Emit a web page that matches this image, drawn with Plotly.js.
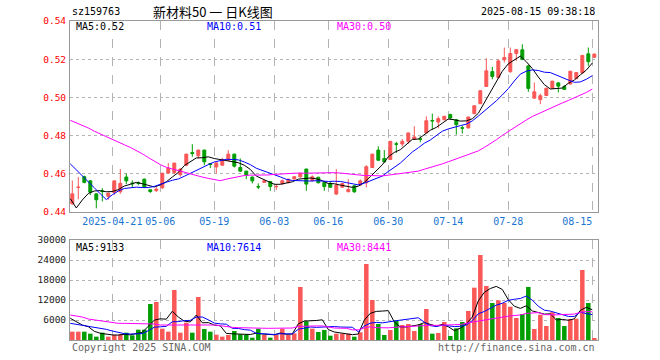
<!DOCTYPE html>
<html><head><meta charset="utf-8">
<script src="https://cdn.plot.ly/plotly-3.0.1.min.js"></script>
<style>html,body{margin:0;padding:0;background:#fff;}#chart{width:660px;height:360px;}</style>
</head><body><div id="chart"></div>
<script>
const dates = ['2025-04-10','2025-04-11','2025-04-14','2025-04-15','2025-04-16','2025-04-17','2025-04-18','2025-04-21','2025-04-22','2025-04-23','2025-04-24','2025-04-25','2025-04-28','2025-04-29','2025-04-30',
'2025-05-06','2025-05-07','2025-05-08','2025-05-09','2025-05-12','2025-05-13','2025-05-14','2025-05-15','2025-05-16','2025-05-19','2025-05-20','2025-05-21','2025-05-22','2025-05-23','2025-05-26','2025-05-27','2025-05-28','2025-05-29','2025-05-30',
'2025-06-03','2025-06-04','2025-06-05','2025-06-06','2025-06-09','2025-06-10','2025-06-11','2025-06-12','2025-06-13','2025-06-16','2025-06-17','2025-06-18','2025-06-19','2025-06-20','2025-06-23','2025-06-24','2025-06-25','2025-06-26','2025-06-27','2025-06-30',
'2025-07-01','2025-07-02','2025-07-03','2025-07-04','2025-07-07','2025-07-08','2025-07-09','2025-07-10','2025-07-11','2025-07-14','2025-07-15','2025-07-16','2025-07-17','2025-07-18','2025-07-21','2025-07-22','2025-07-23','2025-07-24','2025-07-25','2025-07-28','2025-07-29','2025-07-30','2025-07-31',
'2025-08-01','2025-08-04','2025-08-05','2025-08-06','2025-08-07','2025-08-08','2025-08-11','2025-08-12','2025-08-13','2025-08-14','2025-08-15'];

const open = [0.4443,0.4528,0.4585,0.4563,0.4495,0.4510,0.4482,0.4502,0.4506,0.4583,0.4552,0.4553,0.4572,0.4516,0.4512,0.4527,0.4604,0.4606,0.4595,0.4645,0.4711,0.4694,0.4724,0.4654,0.4636,0.4645,0.4671,0.4703,0.4633,0.4614,0.4583,0.4533,0.4555,0.4559,0.4532,0.4547,0.4554,0.4573,0.4584,0.4625,0.4564,0.4582,0.4554,0.4550,0.4494,0.4530,0.4506,0.4537,0.4541,0.4553,0.4633,0.4724,0.4680,0.4675,0.4757,0.4756,0.4770,0.4782,0.4784,0.4814,0.4879,0.4871,0.4883,0.4910,0.4883,0.4841,0.4840,0.4915,0.4967,0.5057,0.5135,0.5104,0.5197,0.5135,0.5230,0.5249,0.5165,0.4996,0.4988,0.5010,0.5048,0.5076,0.5057,0.5070,0.5098,0.5128,0.5228,0.5210];
const high = [0.4565,0.4584,0.4590,0.4566,0.4497,0.4525,0.4500,0.4564,0.4625,0.4602,0.4566,0.4560,0.4575,0.4518,0.4530,0.4605,0.4656,0.4658,0.4628,0.4705,0.4755,0.4726,0.4726,0.4657,0.4660,0.4684,0.4724,0.4705,0.4680,0.4616,0.4585,0.4550,0.4566,0.4561,0.4545,0.4570,0.4574,0.4587,0.4604,0.4626,0.4592,0.4584,0.4556,0.4558,0.4624,0.4552,0.4572,0.4540,0.4570,0.4645,0.4705,0.4744,0.4724,0.4772,0.4767,0.4782,0.4816,0.4849,0.4796,0.4901,0.4915,0.4901,0.4903,0.4915,0.4885,0.4852,0.4899,0.4958,0.5037,0.5205,0.5160,0.5200,0.5261,0.5261,0.5252,0.5278,0.5170,0.5078,0.5020,0.5050,0.5087,0.5080,0.5065,0.5139,0.5132,0.5222,0.5261,0.5229];
const low = [0.4438,0.4466,0.4550,0.4489,0.4419,0.4455,0.4464,0.4490,0.4495,0.4546,0.4530,0.4540,0.4525,0.4500,0.4505,0.4520,0.4600,0.4600,0.4585,0.4640,0.4689,0.4680,0.4645,0.4630,0.4602,0.4642,0.4668,0.4633,0.4610,0.4572,0.4550,0.4520,0.4552,0.4511,0.4516,0.4545,0.4550,0.4570,0.4580,0.4511,0.4560,0.4550,0.4511,0.4526,0.4490,0.4526,0.4504,0.4500,0.4538,0.4529,0.4630,0.4668,0.4658,0.4672,0.4709,0.4744,0.4758,0.4778,0.4765,0.4812,0.4831,0.4838,0.4880,0.4885,0.4805,0.4811,0.4838,0.4912,0.4965,0.5055,0.5095,0.5100,0.5183,0.5128,0.5191,0.5195,0.5029,0.4994,0.4965,0.5008,0.5045,0.5026,0.5040,0.5068,0.5096,0.5126,0.5165,0.5208];
const close = [0.4495,0.4530,0.4555,0.4504,0.4464,0.4507,0.4499,0.4563,0.4550,0.4563,0.4548,0.4550,0.4530,0.4507,0.4520,0.4603,0.4630,0.4656,0.4625,0.4703,0.4706,0.4724,0.4663,0.4649,0.4657,0.4675,0.4703,0.4640,0.4614,0.4593,0.4563,0.4531,0.4564,0.4533,0.4534,0.4564,0.4572,0.4585,0.4603,0.4546,0.4584,0.4553,0.4533,0.4530,0.4541,0.4549,0.4518,0.4506,0.4563,0.4637,0.4703,0.4671,0.4663,0.4770,0.4755,0.4770,0.4814,0.4793,0.4780,0.4878,0.4877,0.4889,0.4901,0.4892,0.4857,0.4839,0.4897,0.4956,0.5035,0.5139,0.5110,0.5191,0.5209,0.5230,0.5250,0.5200,0.5047,0.5029,0.5009,0.5048,0.5085,0.5059,0.5042,0.5137,0.5130,0.5220,0.5187,0.5227];
const volume = [2500,2500,2500,1900,1000,2200,1000,1500,1700,2200,1400,3100,3100,10800,11400,3400,2500,15000,2200,5200,2200,12900,3300,2500,1600,1000,1500,2700,1700,1700,700,3400,1500,700,1500,3400,1500,2000,15900,5600,3400,2400,3000,1300,1900,1900,1900,1000,2300,22800,12000,4800,1500,3000,5800,4500,4800,2700,4800,9300,1900,2100,5400,1200,3500,5400,8700,15700,25500,16200,11100,11900,11100,10000,6600,7800,15900,3300,7600,4200,8300,6600,4200,6300,6400,21000,11100,600];

const ma5 = [0.4470,0.4421,0.4463,0.4497,0.4510,0.4512,0.4506,0.4507,0.4517,0.4536,0.4545,0.4555,0.4548,0.4540,0.4531,0.4542,0.4558,0.4583,0.4607,0.4643,0.4664,0.4683,0.4684,0.4689,0.4680,0.4674,0.4669,0.4665,0.4658,0.4645,0.4623,0.4588,0.4573,0.4557,0.4545,0.4545,0.4553,0.4558,0.4572,0.4574,0.4578,0.4574,0.4564,0.4549,0.4548,0.4541,0.4534,0.4529,0.4535,0.4555,0.4585,0.4616,0.4647,0.4689,0.4712,0.4726,0.4754,0.4780,0.4782,0.4807,0.4828,0.4843,0.4865,0.4887,0.4883,0.4876,0.4877,0.4888,0.4917,0.4973,0.5027,0.5086,0.5137,0.5176,0.5198,0.5216,0.5187,0.5151,0.5107,0.5067,0.5044,0.5046,0.5049,0.5074,0.5091,0.5118,0.5143,0.5180];
const ma10 = [0.4652,0.4622,0.4590,0.4560,0.4527,0.4495,0.4465,0.4490,0.4510,0.4523,0.4528,0.4530,0.4528,0.4528,0.4534,0.4543,0.4556,0.4566,0.4573,0.4587,0.4603,0.4620,0.4634,0.4648,0.4662,0.4669,0.4676,0.4675,0.4673,0.4662,0.4648,0.4629,0.4619,0.4607,0.4595,0.4584,0.4571,0.4565,0.4564,0.4560,0.4562,0.4564,0.4561,0.4560,0.4561,0.4560,0.4554,0.4546,0.4542,0.4551,0.4563,0.4575,0.4588,0.4612,0.4634,0.4656,0.4685,0.4714,0.4736,0.4760,0.4777,0.4799,0.4823,0.4835,0.4845,0.4852,0.4860,0.4877,0.4902,0.4928,0.4952,0.4982,0.5013,0.5046,0.5086,0.5122,0.5137,0.5144,0.5141,0.5132,0.5130,0.5117,0.5100,0.5091,0.5079,0.5081,0.5095,0.5114];
const ma30 = [0.4880,0.4868,0.4855,0.4840,0.4823,0.4808,0.4793,0.4780,0.4765,0.4752,0.4738,0.4722,0.4705,0.4685,0.4666,0.4648,0.4634,0.4625,0.4615,0.4606,0.4598,0.4590,0.4583,0.4576,0.4569,0.4564,0.4572,0.4579,0.4584,0.4591,0.4593,0.4593,0.4593,0.4594,0.4597,0.4599,0.4601,0.4602,0.4604,0.4603,0.4604,0.4604,0.4604,0.4605,0.4606,0.4604,0.4600,0.4595,0.4593,0.4591,0.4591,0.4589,0.4589,0.4593,0.4597,0.4600,0.4603,0.4609,0.4614,0.4624,0.4632,0.4642,0.4652,0.4663,0.4674,0.4684,0.4695,0.4707,0.4720,0.4738,0.4757,0.4778,0.4801,0.4822,0.4844,0.4864,0.4882,0.4900,0.4915,0.4930,0.4945,0.4959,0.4971,0.4984,0.4997,0.5011,0.5026,0.5044];
const vma5 = [6500,5500,4500,4000,2600,2020,1720,1520,1480,1720,1560,1980,2300,4120,5960,6360,6240,8620,6900,5660,5420,7500,5160,5220,4500,4260,1980,1860,1700,1720,1660,2040,1800,1600,1560,2100,1720,1820,4860,5680,5680,5860,6060,3140,2400,2100,2000,1600,1800,5980,8000,8580,8680,8820,5420,3920,3920,4160,4520,5220,4700,4160,4700,3980,2820,3520,4840,6900,11760,14300,15440,16080,15160,12060,10140,9480,10280,8720,8240,7760,7860,6000,6180,5920,6360,8900,9800,9080];
const vma10 = [5000,4700,4400,4200,4000,3700,3200,2700,2300,1900,1790,1850,1910,2800,3840,3960,4110,5460,5510,5810,5890,6870,6890,6060,5080,4840,4740,3510,3460,3110,2960,2010,1830,1650,1640,1880,1880,1810,3230,3620,3890,3790,3940,4000,4040,3890,3930,3830,2470,4190,5050,5290,5140,5310,5700,5960,6250,6420,6670,5320,4310,4040,4430,4250,4020,4110,4500,5800,7870,8560,9480,10460,11030,11910,12220,12460,13180,11940,10150,8950,8670,8140,7450,7080,7060,8380,7900,7630];
const vma30 = [7500,7300,6900,6300,6000,5900,5500,5200,5000,5000,5000,5000,4900,4900,4800,4500,4500,4700,4600,4500,4500,4500,4500,4500,4500,4300,4000,3800,3700,3607,3547,3577,3543,3503,3520,3560,3577,3593,4067,4180,4247,4223,4220,3903,3587,3537,3517,3050,3053,3640,3967,3697,3637,3653,3793,3910,4020,4020,4123,4377,4417,4373,4503,4520,4587,4653,4893,5350,5670,6023,6280,6597,6867,7157,7313,7510,7977,8053,8230,7610,7487,7547,7637,7747,7767,8317,8527,8457];

const tickDates = ['2025-04-21','2025-05-06','2025-05-19','2025-06-03','2025-06-16','2025-06-30','2025-07-14','2025-07-28','2025-08-15'];
const tickLabels = ['2025-04-21','05-06','05-19','06-03','06-16','06-30','07-14','07-28','08-15'];
const priceTicks = [0.44,0.46,0.48,0.50,0.52,0.54];
const priceTickLabels = ['0.44','0.46','0.48','0.50','0.52','0.54'];
const volTicks = [6000,12000,18000,24000,30000];
const volTickLabels = ['6000','12000','18000','24000','30000'];

const UP = '#fa5757', DOWN = '#009e00';
const MONO = 'DejaVu Sans Mono, Liberation Mono, monospace';
const W = 660, H = 360;
const px = x => x / W, py = y => 1 - y / H;

const xs = dates.map((d, i) => i);
const shift = 1 / 3;                // MA points / grid sit at the candle's left edge
const xm = xs.map(v => v - shift);
const tickIdx = tickDates.map(d => dates.indexOf(d) - shift);
// the last label sits to the left of its grid line (it would overflow the frame)
const tickText = tickLabels.map((t, k) => k === tickLabels.length - 1 ? t + '\u00a0'.repeat(t.length) : t);
const volColors = close.map((c, i) => c >= open[i] ? UP : DOWN);

const traces = [
  {type:'candlestick', x:xs, open:open, high:high, low:low, close:close, xaxis:'x', yaxis:'y',
   increasing:{line:{color:UP,width:1}, fillcolor:UP},
   decreasing:{line:{color:DOWN,width:1}, fillcolor:DOWN}, whiskerwidth:0, hoverinfo:'skip'},
  {type:'scatter', mode:'lines', x:xm, y:ma5, line:{color:'#000000',width:1}, xaxis:'x', yaxis:'y', hoverinfo:'skip'},
  {type:'scatter', mode:'lines', x:xm, y:ma10, line:{color:'#0000ff',width:1}, xaxis:'x', yaxis:'y', hoverinfo:'skip'},
  {type:'scatter', mode:'lines', x:xm, y:ma30, line:{color:'#ff00ff',width:1}, xaxis:'x', yaxis:'y', hoverinfo:'skip'},
  {type:'bar', x:xs, y:volume, width:0.75, marker:{color:volColors, line:{width:0}}, xaxis:'x2', yaxis:'y2', hoverinfo:'skip'},
  {type:'scatter', mode:'lines', x:xm, y:vma5, line:{color:'#000000',width:1}, xaxis:'x2', yaxis:'y2', hoverinfo:'skip'},
  {type:'scatter', mode:'lines', x:xm, y:vma10, line:{color:'#0000ff',width:1}, xaxis:'x2', yaxis:'y2', hoverinfo:'skip'},
  {type:'scatter', mode:'lines', x:xm, y:vma30, line:{color:'#ff00ff',width:1}, xaxis:'x2', yaxis:'y2', hoverinfo:'skip'}
];

const xr = [-0.383, 87.53];
const gridC = '#b4b4b4', borderC = '#999999';
const xBase = {domain:[px(70), px(597.5)], range:xr, tickvals:tickIdx, ticktext:tickText,
  showgrid:true, gridcolor:gridC, griddash:'dash', gridwidth:1, zeroline:false, ticks:'',
  showline:true, linecolor:borderC, linewidth:1, mirror:true, fixedrange:true};

function ann(text, x, y, xanchor, color, size, family) {
  return {text:text, x:px(x), y:py(y), xref:'paper', yref:'paper', xanchor:xanchor, yanchor:'middle',
    showarrow:false, font:{family:family || MONO, size:size || 10, color:color || '#000'}};
}

const layout = {
  width:W, height:H, margin:{l:0,r:0,t:0,b:0}, paper_bgcolor:'#fff', plot_bgcolor:'#fff',
  showlegend:false, hovermode:false,
  xaxis: Object.assign({}, xBase, {anchor:'y', rangeslider:{visible:false},
    tickfont:{family:MONO, size:10, color:'#1a75d2'}, ticklabelstandoff:0}),
  yaxis: {domain:[py(212), py(21)], range:[0.44,0.54], anchor:'x', tickvals:priceTicks, ticktext:priceTickLabels,
    showgrid:true, gridcolor:gridC, griddash:'dot', zeroline:false, ticks:'',
    showline:true, linecolor:borderC, linewidth:1, mirror:true, fixedrange:true,
    tickfont:{family:MONO, size:9.5, color:'#ff0000'}, ticklabelstandoff:1},
  xaxis2: Object.assign({}, xBase, {anchor:'y2', showticklabels:false}),
  yaxis2: {domain:[py(340), py(240)], range:[0,30000], anchor:'x2', tickvals:volTicks, ticktext:volTickLabels,
    showgrid:true, gridcolor:gridC, griddash:'dot', zeroline:false, ticks:'',
    showline:true, linecolor:borderC, linewidth:1, mirror:true, fixedrange:true,
    tickfont:{family:MONO, size:9.5, color:'#222222'}, ticklabelstandoff:1},
  annotations: [
    ann('sz159763', 70, 12, 'left', '#000'),
    ann('新材料50 一 日K线图', 213, 12, 'center', '#000', 13, 'Noto Sans CJK SC'),
    ann('2025-08-15 09:38:18', 597, 12, 'right', '#000'),
    ann('MA5:0.52', 74, 27, 'left', '#000'),
    ann('MA10:0.51', 205, 27, 'left', '#0000ff'),
    ann('MA30:0.50', 335, 27, 'left', '#ff00ff'),
    ann('MA5:9133', 74, 247, 'left', '#000'),
    ann('MA10:7614', 205, 247, 'left', '#0000ff'),
    ann('MA30:8441', 335, 247, 'left', '#ff00ff'),
    ann('Copyright 2025 SINA.COM', 70, 347, 'left', '#666666'),
    ann('http://finance.sina.com.cn', 597, 347, 'right', '#666666')
  ]
};

Plotly.newPlot('chart', traces, layout, {displayModeBar:false, staticPlot:true});
</script>
</body></html>
